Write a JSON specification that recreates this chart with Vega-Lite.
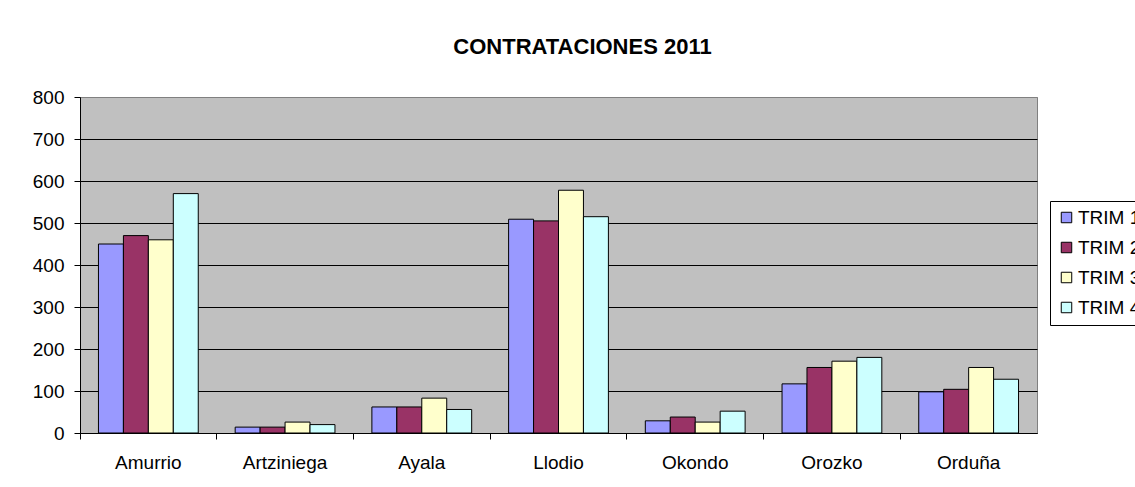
{
  "$schema": "https://vega.github.io/schema/vega-lite/v6.json",
  "autosize": "none",
  "width": 957,
  "height": 336,
  "padding": {"left": 80, "top": 97, "right": 98, "bottom": 54},
  "background": "white",
  "title": {
    "text": "CONTRATACIONES 2011",
    "font": "Liberation Sans",
    "fontSize": 22,
    "fontWeight": "bold",
    "color": "black",
    "anchor": "middle",
    "dx": 24,
    "dy": 9,
    "offset": 38
  },
  "data": {
    "values": [
      {"municipio": "Amurrio", "trim": "TRIM 1", "valor": 450},
      {"municipio": "Amurrio", "trim": "TRIM 2", "valor": 470},
      {"municipio": "Amurrio", "trim": "TRIM 3", "valor": 460},
      {"municipio": "Amurrio", "trim": "TRIM 4", "valor": 570},
      {"municipio": "Artziniega", "trim": "TRIM 1", "valor": 14},
      {"municipio": "Artziniega", "trim": "TRIM 2", "valor": 14},
      {"municipio": "Artziniega", "trim": "TRIM 3", "valor": 26},
      {"municipio": "Artziniega", "trim": "TRIM 4", "valor": 20},
      {"municipio": "Ayala", "trim": "TRIM 1", "valor": 62},
      {"municipio": "Ayala", "trim": "TRIM 2", "valor": 62},
      {"municipio": "Ayala", "trim": "TRIM 3", "valor": 83},
      {"municipio": "Ayala", "trim": "TRIM 4", "valor": 56},
      {"municipio": "Llodio", "trim": "TRIM 1", "valor": 509},
      {"municipio": "Llodio", "trim": "TRIM 2", "valor": 505},
      {"municipio": "Llodio", "trim": "TRIM 3", "valor": 578},
      {"municipio": "Llodio", "trim": "TRIM 4", "valor": 515},
      {"municipio": "Okondo", "trim": "TRIM 1", "valor": 29},
      {"municipio": "Okondo", "trim": "TRIM 2", "valor": 38},
      {"municipio": "Okondo", "trim": "TRIM 3", "valor": 26},
      {"municipio": "Okondo", "trim": "TRIM 4", "valor": 52},
      {"municipio": "Orozko", "trim": "TRIM 1", "valor": 117},
      {"municipio": "Orozko", "trim": "TRIM 2", "valor": 156},
      {"municipio": "Orozko", "trim": "TRIM 3", "valor": 171},
      {"municipio": "Orozko", "trim": "TRIM 4", "valor": 180},
      {"municipio": "Orduña", "trim": "TRIM 1", "valor": 98},
      {"municipio": "Orduña", "trim": "TRIM 2", "valor": 104},
      {"municipio": "Orduña", "trim": "TRIM 3", "valor": 156},
      {"municipio": "Orduña", "trim": "TRIM 4", "valor": 128}
    ]
  },
  "mark": {"type": "bar", "stroke": "black", "strokeWidth": 1, "opacity": 1},
  "encoding": {
    "x": {
      "field": "municipio",
      "type": "nominal",
      "sort": null,
      "title": null,
      "scale": {"paddingInner": 0, "paddingOuter": 0},
      "axis": {
        "labelAngle": 0,
        "bandPosition": 0,
        "labelFont": "Liberation Sans",
        "labelFontSize": 19,
        "labelColor": "black",
        "labelPadding": 14,
        "domainColor": "black",
        "tickColor": "black",
        "tickSize": 6,
        "grid": false
      }
    },
    "xOffset": {
      "field": "trim",
      "type": "nominal",
      "scale": {"paddingInner": 0, "paddingOuter": 0.74}
    },
    "y": {
      "field": "valor",
      "type": "quantitative",
      "title": null,
      "scale": {"domain": [0, 800], "nice": false},
      "axis": {
        "values": [0, 100, 200, 300, 400, 500, 600, 700, 800],
        "labelFont": "Liberation Sans",
        "labelFontSize": 19,
        "labelColor": "black",
        "labelPadding": 10,
        "domainColor": "black",
        "tickColor": "black",
        "tickSize": 6,
        "grid": true,
        "gridColor": {"condition": {"test": "datum.value == 800", "value": "#808080"}, "value": "black"},
        "gridOpacity": 1,
        "gridWidth": 1
      }
    },
    "color": {
      "field": "trim",
      "type": "nominal",
      "title": null,
      "scale": {
        "domain": ["TRIM 1", "TRIM 2", "TRIM 3", "TRIM 4"],
        "range": ["#9999FF", "#993366", "#FFFFCC", "#CCFFFF"]
      },
      "legend": {
        "orient": "none",
        "legendX": 970,
        "legendY": 104,
        "symbolType": "square",
        "symbolSize": 110,
        "symbolStrokeColor": "black",
        "symbolStrokeWidth": 1,
        "symbolOpacity": 1,
        "labelFont": "Liberation Sans",
        "labelFontSize": 19,
        "labelColor": "black",
        "labelLimit": 200,
        "labelOffset": 2,
        "rowPadding": 10,
        "padding": 7,
        "strokeColor": "black",
        "fillColor": "white"
      }
    }
  },
  "config": {
    "view": {"fill": "#C0C0C0", "stroke": "#808080", "strokeWidth": 1},
    "axis": {"labelFont": "Liberation Sans"}
  }
}
